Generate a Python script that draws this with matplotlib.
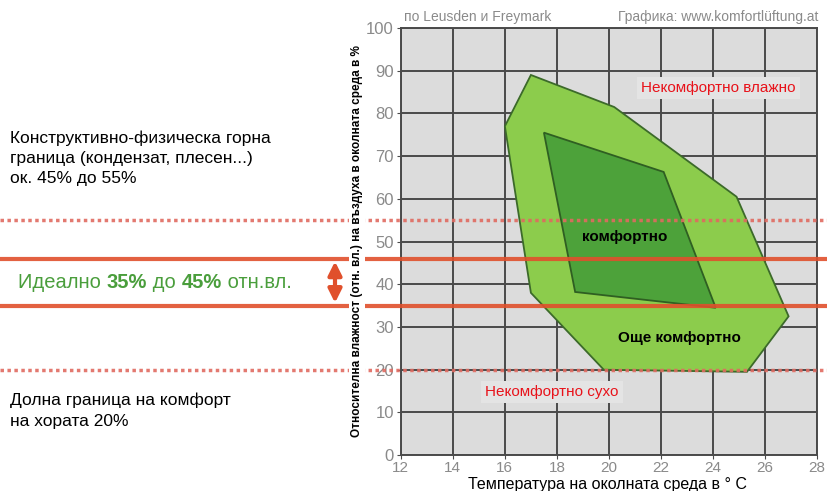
import matplotlib.pyplot as plt
from matplotlib.patches import Polygon, FancyArrowPatch
from matplotlib.transforms import blended_transform_factory

plt.rcParams['font.family'] = ['Liberation Sans', 'DejaVu Sans']

# Comfort zones (temperature in deg C, relative humidity in %).
outer_t = [17.0, 20.2, 24.9, 26.9, 25.3, 19.8, 17.0, 16.0]
outer_rh = [89.0, 81.5, 60.5, 32.5, 19.5, 20.0, 38.0, 77.0]
inner_t = [17.5, 22.1, 24.1, 18.7]
inner_rh = [75.5, 66.3, 34.5, 38.2]

# Horizontal reference lines across the whole figure.
dotted_levels = [55, 20]
solid_levels = [46, 35]

x_ticks = [12, 14, 16, 18, 20, 22, 24, 26, 28]
y_ticks = [0, 10, 20, 30, 40, 50, 60, 70, 80, 90, 100]

fig = plt.figure(figsize=(8.28, 4.91), dpi=100)
ax = fig.add_axes([0.484, 0.073, 0.503, 0.870])
ax.set_facecolor('#dcdcdc')
ax.set_xlim(12, 28)
ax.set_ylim(0, 100)
ax.set_xticks(x_ticks)
ax.set_yticks(y_ticks)
ax.grid(True, color='#4a4a4a', linewidth=1.4)
ax.set_axisbelow(True)
for s in ax.spines.values():
    s.set_color('#4a4a4a')
    s.set_linewidth(1.4)
ax.tick_params(colors='#4a4a4a', labelcolor='#8a8a8a', length=3)
ax.tick_params(axis='y', labelsize=12, pad=2)
ax.tick_params(axis='x', labelsize=11, pad=1)

ax.add_patch(Polygon(list(zip(outer_t, outer_rh)), closed=True, facecolor='#8ccc4c',
                     edgecolor='#3c6a2a', linewidth=1.3, zorder=2))
ax.add_patch(Polygon(list(zip(inner_t, inner_rh)), closed=True, facecolor='#4da23a',
                     edgecolor='#2f5f22', linewidth=1.3, zorder=3))

ax.text(20.6, 51, 'комфортно', fontsize=11, fontweight='bold', ha='center', va='center', zorder=4)
ax.text(22.7, 27.5, 'Още комфортно', fontsize=11, fontweight='bold', ha='center', va='center', zorder=4)
ax.text(24.2, 86, 'Некомфортно влажно', fontsize=11, color='#e8121a', ha='center', va='center',
        bbox=dict(facecolor='#e4e4e4', edgecolor='none', pad=3), zorder=4)
ax.text(17.8, 14.8, 'Некомфортно сухо', fontsize=11, color='#e8121a', ha='center', va='center',
        bbox=dict(facecolor='#e4e4e4', edgecolor='none', pad=3), zorder=4)

trans = blended_transform_factory(fig.transFigure, ax.transData)
for lv in solid_levels:
    ax.plot([0, 1], [lv, lv], transform=trans, clip_on=False, color='#e0502c',
            linewidth=3, alpha=0.9, zorder=5)
for lv in dotted_levels:
    ax.plot([0, 1], [lv, lv], transform=trans, clip_on=False, color='#e06a60',
            linewidth=2.5, linestyle=(0, (1, 1)), alpha=0.9, zorder=5)

arrow = FancyArrowPatch((335 / 828, solid_levels[0]), (335 / 828, solid_levels[1]),
                        transform=trans, arrowstyle='<|-|>', mutation_scale=20,
                        color='#e0502c', linewidth=3, clip_on=False)
fig.patches.append(arrow)

# Axis titles as figure texts so they sit on top of the red lines.
fig.text(607 / 828, 1 - 484.5 / 491, 'Температура на околната среда в ° C', fontsize=11.5,
         ha='center', va='center')
fig.text(357 / 828, 1 - 241 / 491,
         'Относителна влажност (отн. вл.) на въздуха в околната среда в %',
         fontsize=8.5, fontweight='bold', rotation=90, ha='center', va='center',
         bbox=dict(facecolor='white', edgecolor='none', pad=1.5))

fig.text(404 / 828, 1 - 17 / 491, 'по Leusden и Freymark', fontsize=10, color='#8a8a8a', va='center')
fig.text(818 / 828, 1 - 17 / 491, 'Графика: www.komfortlüftung.at', fontsize=10, color='#8a8a8a',
         va='center', ha='right')

fig.text(10 / 828, 1 - 130 / 491,
         'Конструктивно-физическа горна\nграница (кондензат, плесен...)\nок. 45% до 55%',
         fontsize=12.5, va='top', linespacing=1.45)
fig.text(10 / 828, 1 - 393 / 491, 'Долна граница на комфорт\nна хората 20%',
         fontsize=12.5, va='top', linespacing=1.45)

green = '#4a9e3c'
parts = [('Идеално ', 'normal'), ('35%', 'bold'), (' до ', 'normal'), ('45%', 'bold'),
         (' отн.вл.', 'normal')]
fig.canvas.draw()
x = 18 / 828
for s, w in parts:
    t = fig.text(x, 1 - 283 / 491, s, fontsize=14.5, color=green, fontweight=w, va='center')
    bb = t.get_window_extent(renderer=fig.canvas.get_renderer())
    x += bb.width / fig.bbox.width

fig.savefig('out.png', dpi=100)
